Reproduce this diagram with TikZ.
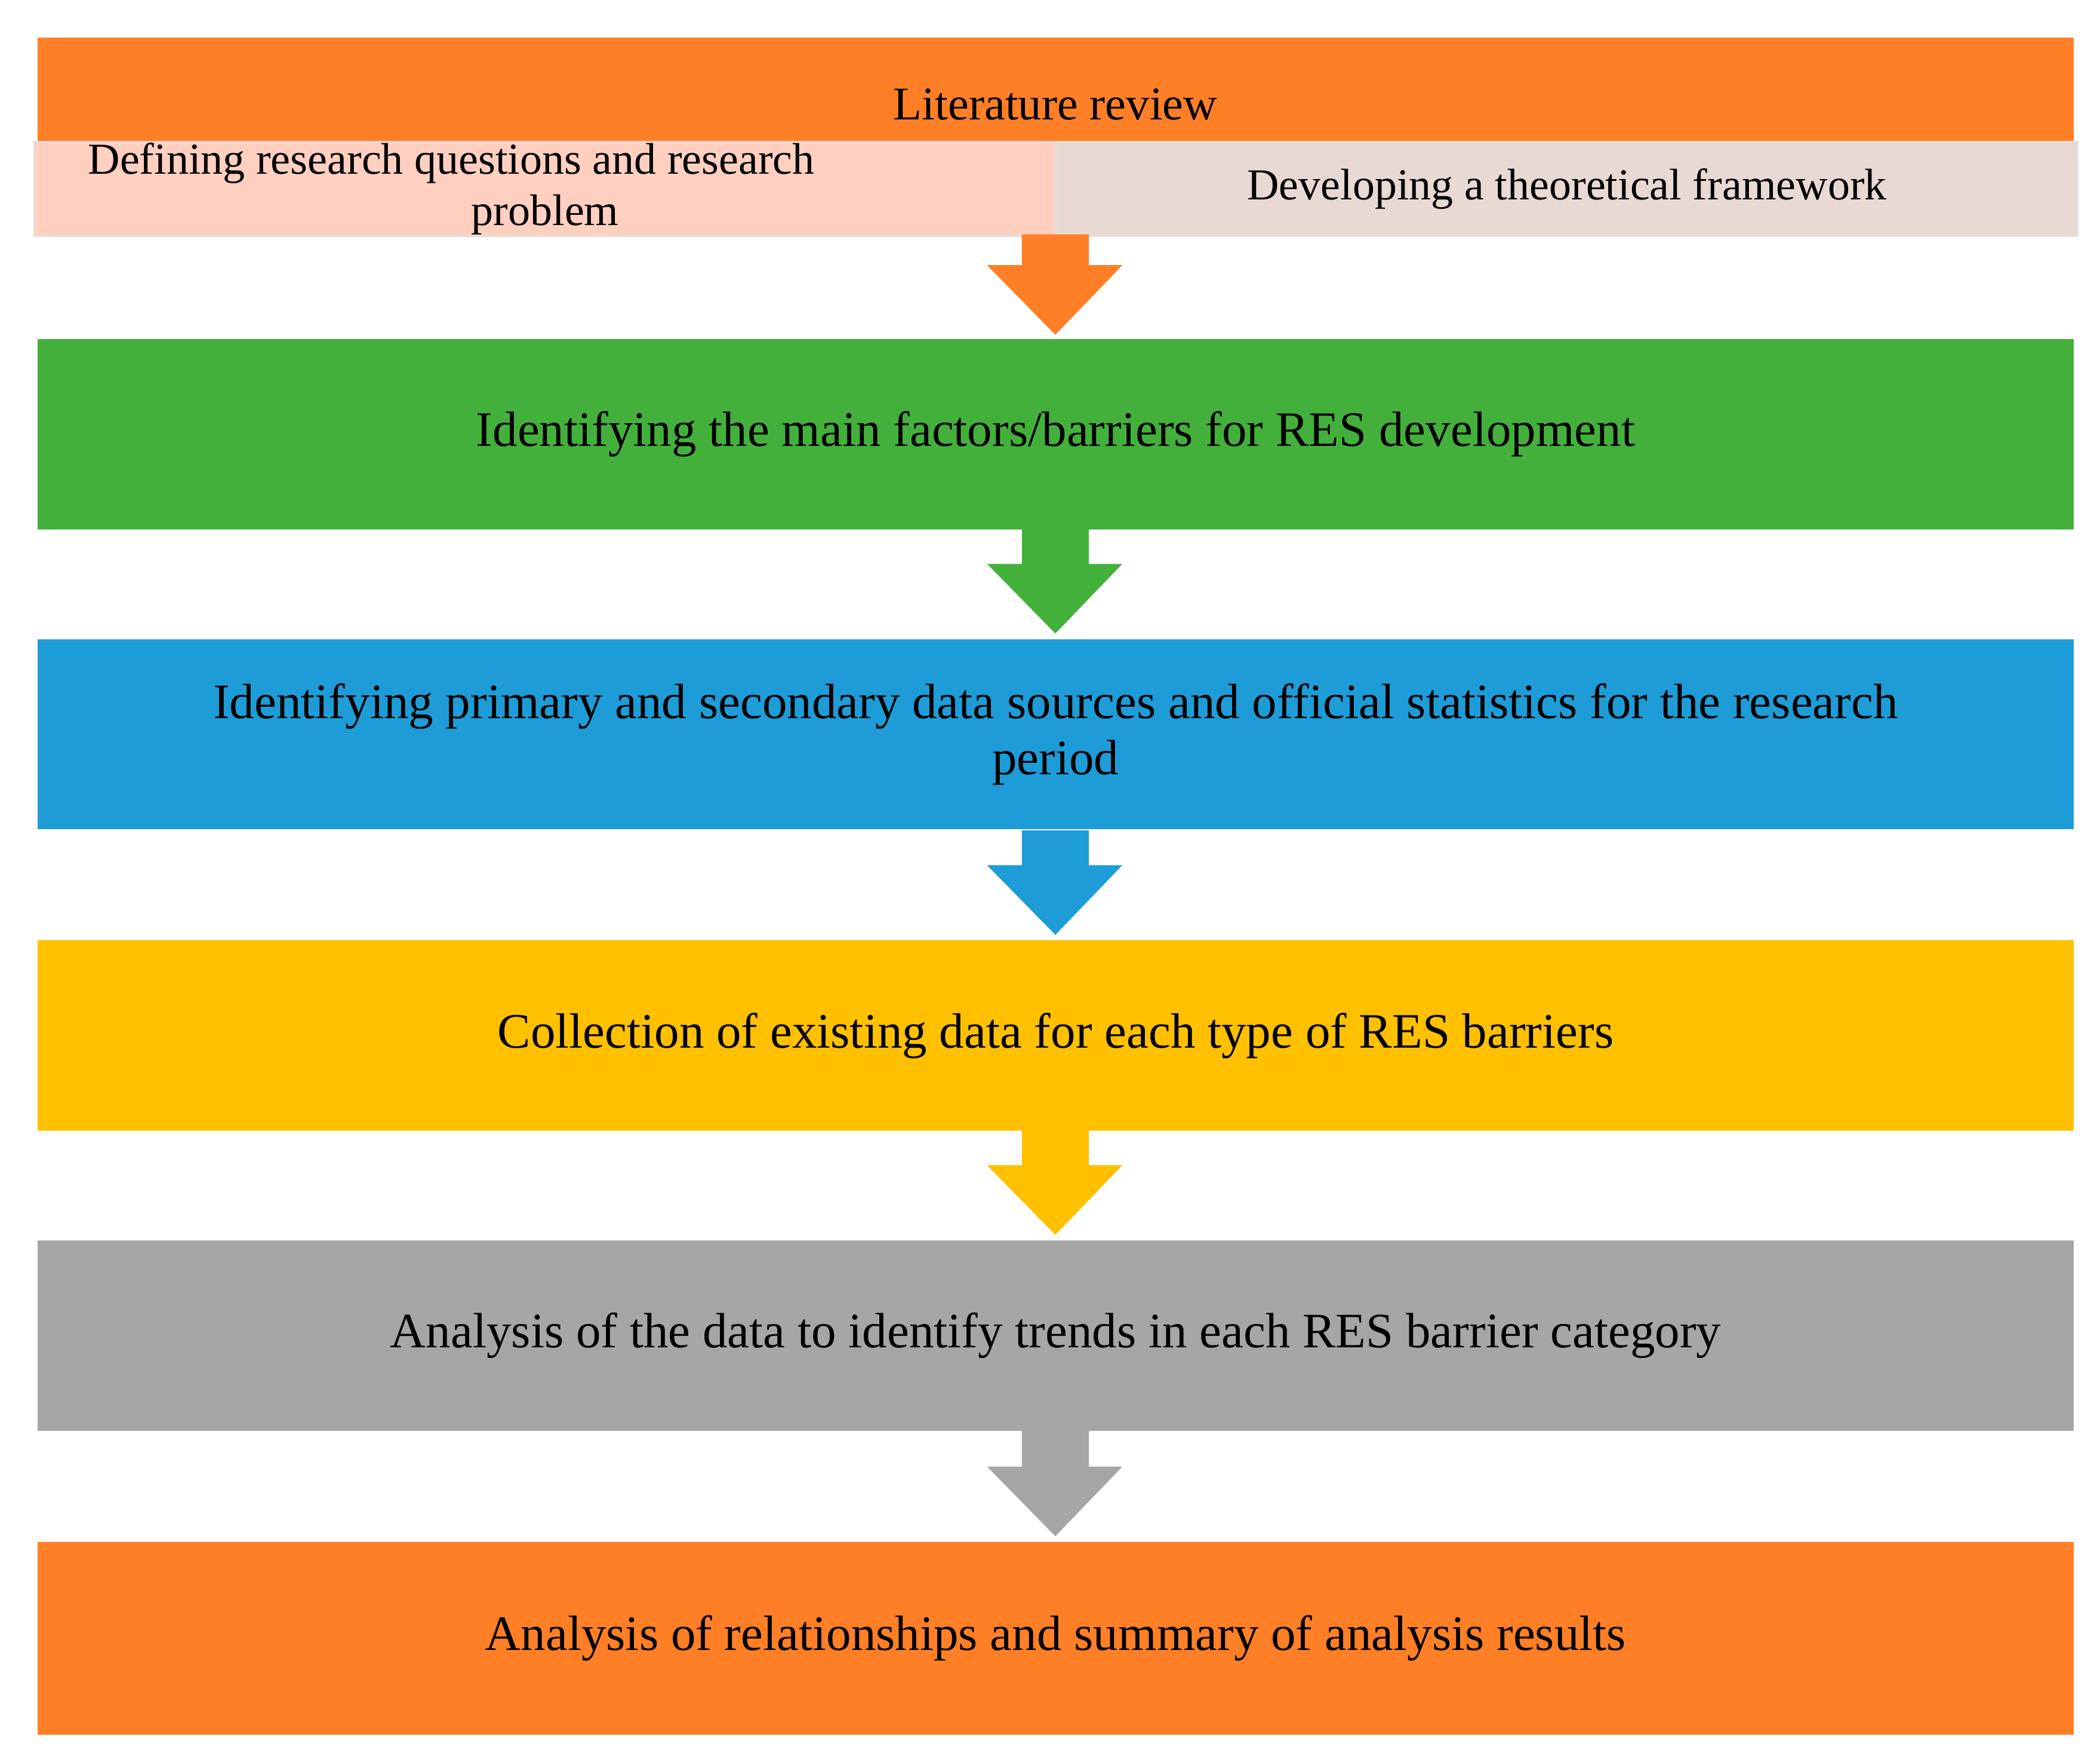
\documentclass[tikz,border=0pt]{standalone}
\usepackage{fontspec}
\setmainfont{Liberation Serif}
\begin{document}
\begin{tikzpicture}[x=1pt,y=-1pt,
 box/.style={draw=none,fill=#1,minimum width=1520pt,minimum height=142pt,anchor=north west,inner sep=0pt},
 lbl/.style={align=center,font=\fontsize{37}{42}\selectfont},
 sub/.style={fill=#1,draw=#1!80!gray!60,line width=2pt,minimum width=762pt,minimum height=70pt,anchor=north west,inner sep=0pt,align=center,font=\fontsize{33}{38}\selectfont},
 arr/.style={fill=#1,draw=none}]
\definecolor{cor}{HTML}{FF7F27}
\definecolor{cgr}{HTML}{44B03C}
\definecolor{cbl}{HTML}{1E9CD7}
\definecolor{cye}{HTML}{FFC000}
\definecolor{cga}{HTML}{A6A6A6}
\definecolor{cpk}{HTML}{FFCFC0}
\definecolor{cbe}{HTML}{E8DAD3}
\useasboundingbox[fill=white] (0,0) rectangle (3518/2.2436,2950/2.2436);
\node[box=cor,minimum height=147pt] (lit) at (28,28) {};
\node[lbl,font=\fontsize{35}{40}\selectfont] (littext) at (788,78) {Literature review};
\node[sub=cpk] (def) at (25,105) {\hspace*{-140pt}Defining research questions and research\\problem};
\node[sub=cbe] (dev) at (788,105) {Developing a theoretical framework};
\node[box=cgr] (b1) at (28,253) {}; \node[lbl] at (b1.center) {Identifying the main factors/barriers for RES development};
\node[box=cbl] (b2) at (28,477) {}; \node[lbl] at (b2.center) {Identifying primary and secondary data sources and official statistics for the research\\period};
\node[box=cye] (b3) at (28,702) {}; \node[lbl] at (b3.center) {Collection of existing data for each type of RES barriers};
\node[box=cga] (b4) at (28,926) {}; \node[lbl] at (b4.center) {Analysis of the data to identify trends in each RES barrier category};
\node[box=cor,minimum height=144pt] (b5) at (28,1151) {}; \node[lbl] at (b5.center) {Analysis of relationships and summary of analysis results};
\foreach \c/\t/\b in {cor/175/250, cgr/395/473, cbl/620/698, cye/843/922, cga/1068/1147}{
 \fill[\c] (763,\t) -- (813,\t) -- (813,\b-52) -- (838,\b-52) -- (788,\b) -- (737,\b-52) -- (763,\b-52) -- cycle;
}
\end{tikzpicture}
\end{document}
